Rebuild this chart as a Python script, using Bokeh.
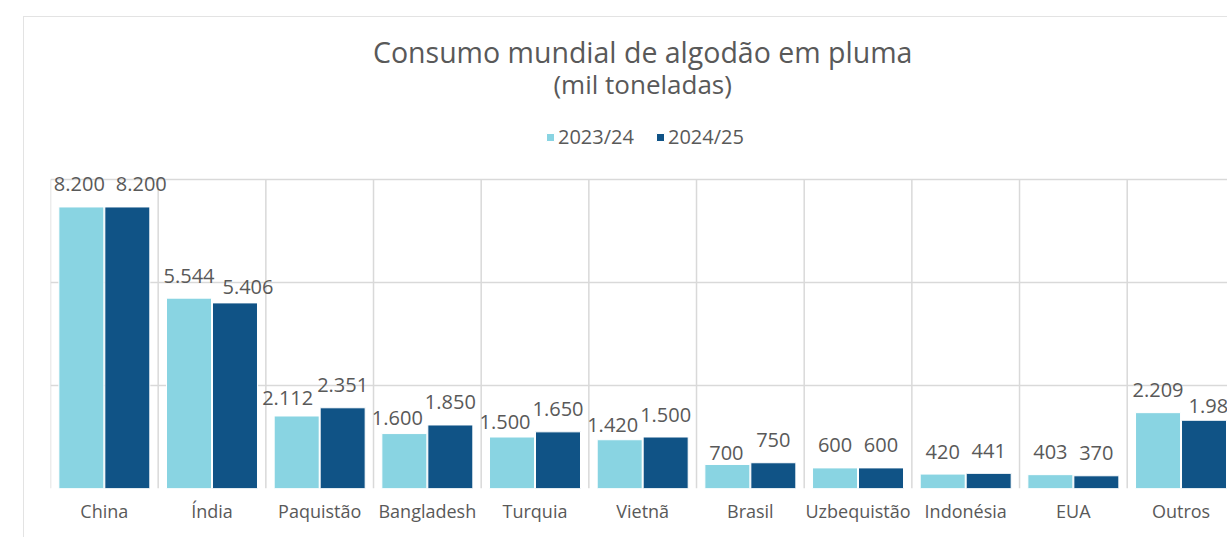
from bokeh.plotting import figure
from bokeh.models import (Range1d, FixedTicker, LabelSet, ColumnDataSource,
                          Legend, LegendItem)
from bokeh.core.properties import value
from bokeh.embed import file_html
from bokeh.resources import INLINE

# ---------------- data ----------------
categories = ["China", "Índia", "Paquistão", "Bangladesh", "Turquia", "Vietnã",
              "Brasil", "Uzbequistão", "Indonésia", "EUA", "Outros"]
series_names = ["2023/24", "2024/25"]
values_2023_24 = [8200, 5544, 2112, 1600, 1500, 1420, 700, 600, 420, 403, 2209]
values_2024_25 = [8200, 5406, 2351, 1850, 1650, 1500, 750, 600, 441, 370, 1987]
grid_values = [0, 3000, 6000, 9000]
title_text = "Consumo mundial de algodão em pluma"
subtitle_text = "(mil toneladas)"

# ---------------- style ----------------
FONT = "Open Sans"
GRAY = "#595959"
GRID = "#d9d9d9"
LIGHT = "#89D4E2"
DARK = "#105386"

# hand placement of a few value labels, as in the reference (pixels)
label_dx_a = [-2, 0, -9, -7, -7, -7, -1, 0, 0, 0, 0]
label_drop_a = [0, 0, 5, 7, 7, 8, 11, 0, 0, 0, 0]
label_dx_b = [14, 13, 0, 0, 0, 0, 0, 0, 0, 0, 10]
label_drop_b = [0, 7, 0, 0, 0, 0, 0, 0, 0, 0, 8]
LABEL_GAP = 15.5

W, H = 1204, 521
BORDER_L, BORDER_B = 26, 50
FRAME_H = H - BORDER_B          # frame spans from the figure top to the axis
GRID_PX = 309                   # pixel height of the 0..9000 grid block
CAT_PX = 107.67
X_END = (W - BORDER_L) / CAT_PX  # the reference crops the last category at the right edge
Y_MAX = grid_values[-1]
Y_TOP = FRAME_H / GRID_PX * Y_MAX


def px_above_axis(d):
    """data y for a point d pixels above the zero line"""
    return d / GRID_PX * Y_MAX


def fmt(v):
    return f"{v:,}".replace(",", ".")


p = figure(width=W, height=H, output_backend="svg", toolbar_location=None,
           x_range=Range1d(0, X_END), y_range=Range1d(0, Y_TOP),
           min_border_left=BORDER_L, min_border_right=0,
           min_border_top=0, min_border_bottom=BORDER_B,
           outline_line_color=None, background_fill_color="white",
           border_fill_color="white", margin=(16, 0, 0, 23))
p.styles = {"border-left": "1px solid #e3e3e3", "border-top": "1px solid #e3e3e3"}

# grids
p.xgrid.visible = False
p.ygrid.ticker = FixedTicker(ticks=grid_values)
p.ygrid.grid_line_color = GRID
p.ygrid.grid_line_width = 1.5
bounds = list(range(len(categories) + 1))
p.segment(x0=bounds, y0=[grid_values[0]] * len(bounds), x1=bounds,
          y1=[Y_MAX] * len(bounds), line_color=GRID, line_width=1.5)

# axes
p.yaxis.visible = False
ax = p.xaxis[0]
ax.ticker = FixedTicker(ticks=[i + 0.5 for i in range(len(categories))])
ax.major_label_overrides = {i + 0.5: c for i, c in enumerate(categories)}
ax.axis_line_color = None
ax.major_tick_line_color = None
ax.minor_tick_line_color = None
ax.major_tick_in = 0
ax.major_tick_out = 0
ax.major_label_standoff = 10
ax.major_label_text_font = FONT
ax.major_label_text_font_size = "18px"
ax.major_label_text_color = GRAY

# bars
BAR_W = 0.418
OFF = 0.2135
x_a = [i + 0.5 - OFF for i in range(len(categories))]
x_b = [i + 0.5 + OFF for i in range(len(categories))]
src_a = ColumnDataSource(dict(x=x_a, top=values_2023_24,
                              label=[fmt(v) for v in values_2023_24],
                              dx=label_dx_a,
                              dy=[LABEL_GAP - d for d in label_drop_a]))
src_b = ColumnDataSource(dict(x=x_b, top=values_2024_25,
                              label=[fmt(v) for v in values_2024_25],
                              dx=label_dx_b,
                              dy=[LABEL_GAP - d for d in label_drop_b]))
r_a = p.vbar(x="x", top="top", width=BAR_W, source=src_a, fill_color=LIGHT,
             line_color="white", line_width=1)
r_b = p.vbar(x="x", top="top", width=BAR_W, source=src_b, fill_color=DARK,
             line_color="white", line_width=1)

for src in (src_a, src_b):
    p.add_layout(LabelSet(x="x", y="top", text="label", source=src,
                          x_offset="dx", y_offset="dy",
                          text_align="center", text_baseline="alphabetic",
                          text_font=value(FONT), text_font_size=value("20px"),
                          text_color=GRAY))

# titles (baselines 426 and 395 px above the zero line)
mid_x = len(categories) / 2
title_src = ColumnDataSource(dict(x=[mid_x, mid_x],
                                  y=[px_above_axis(426), px_above_axis(395)],
                                  text=[title_text, subtitle_text],
                                  size=["28.5px", "26px"]))
p.add_layout(LabelSet(x="x", y="y", text="text", source=title_src,
                      text_align="center", text_baseline="alphabetic",
                      text_font=value(FONT), text_font_size="size",
                      text_color=GRAY))

# legend
legend = Legend(items=[LegendItem(label=series_names[0], renderers=[r_a]),
                       LegendItem(label=series_names[1], renderers=[r_b])],
                location=(495, 338), orientation="horizontal",
                glyph_width=10, glyph_height=10, label_standoff=3, spacing=21,
                padding=0, margin=0, border_line_color=None,
                background_fill_alpha=0, label_text_font=FONT,
                label_text_font_size="20px", label_text_color=GRAY,
                label_height=20)
p.add_layout(legend)

open("out.html", "w").write(file_html(p, INLINE))
